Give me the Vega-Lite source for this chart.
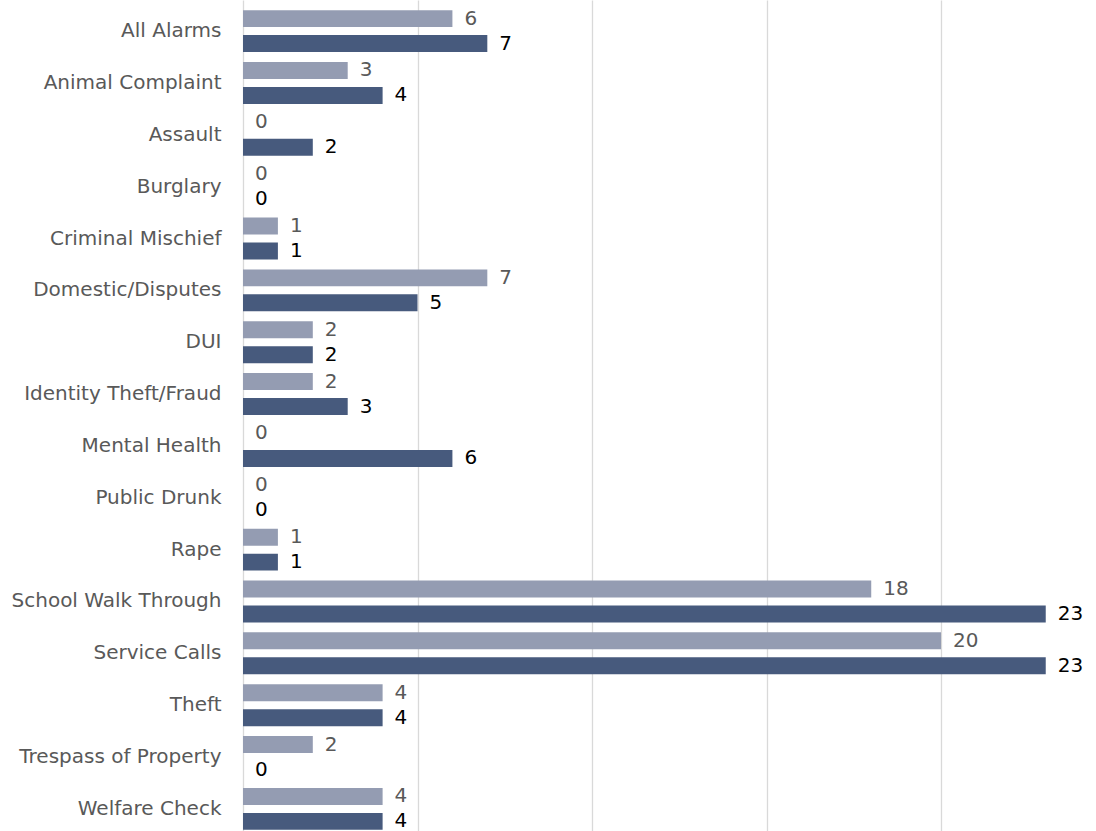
{
  "$schema": "https://vega.github.io/schema/vega-lite/v6.json",
  "width": 853,
  "height": 840,
  "autosize": "none",
  "padding": {"top": 0, "left": 243, "right": 0, "bottom": 0},
  "background": "white",
  "config": {"view": {"stroke": null}, "font": "DejaVu Sans"},
  "data": {
    "values": [
      {"category": "All Alarms", "series": "Previous", "value": 6},
      {"category": "All Alarms", "series": "Current", "value": 7},
      {"category": "Animal Complaint", "series": "Previous", "value": 3},
      {"category": "Animal Complaint", "series": "Current", "value": 4},
      {"category": "Assault", "series": "Previous", "value": 0},
      {"category": "Assault", "series": "Current", "value": 2},
      {"category": "Burglary", "series": "Previous", "value": 0},
      {"category": "Burglary", "series": "Current", "value": 0},
      {"category": "Criminal Mischief", "series": "Previous", "value": 1},
      {"category": "Criminal Mischief", "series": "Current", "value": 1},
      {"category": "Domestic/Disputes", "series": "Previous", "value": 7},
      {"category": "Domestic/Disputes", "series": "Current", "value": 5},
      {"category": "DUI", "series": "Previous", "value": 2},
      {"category": "DUI", "series": "Current", "value": 2},
      {"category": "Identity Theft/Fraud", "series": "Previous", "value": 2},
      {"category": "Identity Theft/Fraud", "series": "Current", "value": 3},
      {"category": "Mental Health", "series": "Previous", "value": 0},
      {"category": "Mental Health", "series": "Current", "value": 6},
      {"category": "Public Drunk", "series": "Previous", "value": 0},
      {"category": "Public Drunk", "series": "Current", "value": 0},
      {"category": "Rape", "series": "Previous", "value": 1},
      {"category": "Rape", "series": "Current", "value": 1},
      {"category": "School Walk Through", "series": "Previous", "value": 18},
      {"category": "School Walk Through", "series": "Current", "value": 23},
      {"category": "Service Calls", "series": "Previous", "value": 20},
      {"category": "Service Calls", "series": "Current", "value": 23},
      {"category": "Theft", "series": "Previous", "value": 4},
      {"category": "Theft", "series": "Current", "value": 4},
      {"category": "Trespass of Property", "series": "Previous", "value": 2},
      {"category": "Trespass of Property", "series": "Current", "value": 0},
      {"category": "Welfare Check", "series": "Previous", "value": 4},
      {"category": "Welfare Check", "series": "Current", "value": 4}
    ]
  },
  "encoding": {
    "y": {
      "field": "category", "type": "nominal", "sort": null,
      "scale": {"paddingInner": 0, "paddingOuter": 0.1},
      "axis": {"title": null, "ticks": false, "domain": false, "labelPadding": 22, "labelFontSize": 20, "labelColor": "#595959", "labelFont": "DejaVu Sans", "labelLimit": 300}
    },
    "yOffset": {
      "field": "series", "type": "nominal", "sort": ["Previous", "Current"],
      "scale": {"paddingInner": 0.32, "paddingOuter": 0.198}
    },
    "x": {
      "field": "value", "type": "quantitative",
      "scale": {"domain": [0, 24.44], "nice": false},
      "axis": {"title": null, "values": [0, 5, 10, 15, 20], "labels": false, "ticks": false, "domain": false, "gridColor": "#d9d9d9", "gridWidth": 1.3}
    }
  },
  "layer": [
    {
      "mark": {"type": "bar"},
      "encoding": {
        "color": {
          "field": "series", "type": "nominal",
          "scale": {"domain": ["Previous", "Current"], "range": ["#949cb2", "#475a7d"]},
          "legend": null
        }
      }
    },
    {
      "mark": {"type": "text", "align": "left", "baseline": "middle", "dx": 12, "fontSize": 20, "font": "DejaVu Sans"},
      "encoding": {
        "text": {"field": "value", "type": "quantitative"},
        "color": {
          "field": "series", "type": "nominal",
          "scale": {"domain": ["Previous", "Current"], "range": ["#595959", "#000000"]},
          "legend": null
        }
      }
    }
  ],
  "resolve": {"scale": {"color": "independent"}}
}
